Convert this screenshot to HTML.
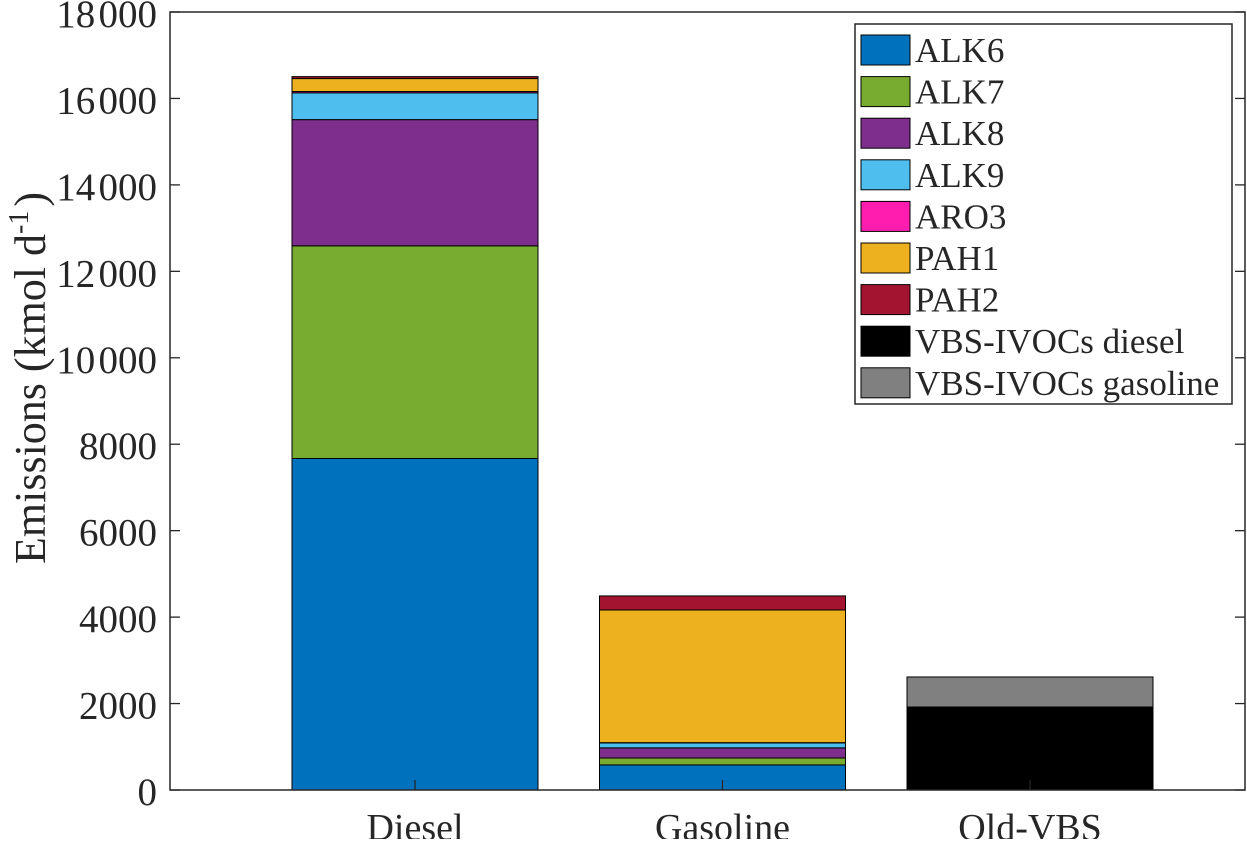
<!DOCTYPE html>
<html><head><meta charset="utf-8"><style>
body{margin:0;background:#fff}
text{font-family:"Liberation Serif",serif;fill:#262626}
</style></head><body>
<svg id="c" width="1247" height="839" xmlns="http://www.w3.org/2000/svg"></svg>
<script>
const categories=["Diesel","Gasoline","Old-VBS"];
const seriesNames=["ALK6","ALK7","ALK8","ALK9","ARO3","PAH1","PAH2","VBS-IVOCs diesel","VBS-IVOCs gasoline"];
const colors=["#0072BD","#77AC30","#7E2F8E","#4DBEEE","#FF1DAF","#EDB120","#A2142F","#000000","#808080"];
const ALK6=[7670,580,0];
const ALK7=[4920,160,0];
const ALK8=[2920,235,0];
const ALK9=[620,115,0];
const ARO3=[30,5,0];
const PAH1=[300,3070,0];
const PAH2=[45,325,0];
const VBSdiesel=[0,0,1920];
const VBSgasoline=[0,0,695];
const yTicks=[0,2000,4000,6000,8000,10000,12000,14000,16000,18000];
const series=[ALK6,ALK7,ALK8,ALK9,ARO3,PAH1,PAH2,VBSdiesel,VBSgasoline];
const L=170,R=1245,T=12,B=790,yMax=18000;
const y=v=>B-(v/yMax)*(B-T);
const x=i=>415+i*307.5;
const bw=246;
const svg=document.getElementById('c');
const NS="http://www.w3.org/2000/svg";
function mk(t,a,p){const e=document.createElementNS(NS,t);for(const k in a)e.setAttribute(k,a[k]);(p||svg).appendChild(e);return e;}
categories.forEach((c,i)=>{
  let acc=0;
  series.forEach((s,j)=>{
    const v=s[i]; if(v<=0)return;
    const r=mk('rect',{x:x(i)-bw/2,y:y(acc+v),width:bw,height:y(acc)-y(acc+v),fill:colors[j],stroke:'#000','stroke-width':1});
    
    
    acc+=v;
  });
  mk('line',{x1:x(i),x2:x(i),y1:B,y2:B-10,stroke:'#262626','stroke-width':1.3});
  const t=mk('text',{x:x(i),y:B+50,'text-anchor':'middle','font-size':38});t.textContent=c;
  
  
});
yTicks.forEach(v=>{
  mk('line',{x1:L,x2:L+10,y1:y(v),y2:y(v),stroke:'#262626','stroke-width':1.3});
  mk('line',{x1:R,x2:R-10,y1:y(v),y2:y(v),stroke:'#262626','stroke-width':1.3});
  const s=v>=10000?String(v).slice(0,2)+'\u200A'+String(v).slice(2):String(v);
  const t=mk('text',{x:L-13,y:y(v)+15,'text-anchor':'end','font-size':39});t.textContent=s;
  
  
});
const ax=mk('rect',{x:L,y:T,width:R-L,height:B-T,fill:'none',stroke:'#262626','stroke-width':1.5});


const yt=mk('text',{transform:'translate(45,378) rotate(-90)','text-anchor':'middle','font-size':44});
yt.innerHTML='Emissions (kmol d<tspan dy="-17" font-size="28">-1</tspan><tspan dy="17" dx="4">)</tspan>';


const lg=mk('g',{});


mk('rect',{x:855,y:24,width:377,height:380,fill:'#fff',stroke:'#262626','stroke-width':1.5},lg);
seriesNames.forEach((n,j)=>{
  const yy=35+j*41.6;
  const g=mk('g',{},lg);
  
  
  mk('rect',{x:861,y:yy,width:49,height:30,fill:colors[j],stroke:'#000','stroke-width':1},g);
  const t=mk('text',{x:915,y:yy+27,'font-size':35},g);t.textContent=n;
});
</script>
</body></html>
